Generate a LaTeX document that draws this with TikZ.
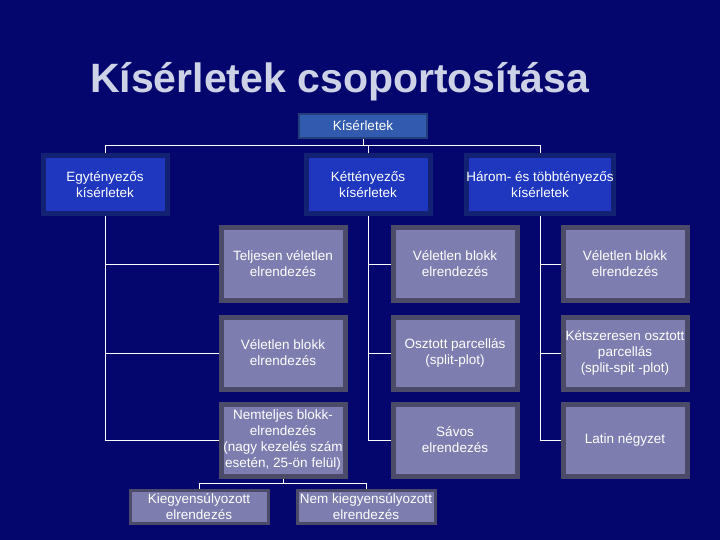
\documentclass[tikz,border=0pt]{standalone}
\usepackage{fontspec}
\setmainfont{Liberation Sans}
\definecolor{bgnavy}{RGB}{4,6,110}
\definecolor{topblue}{RGB}{50,90,175}
\definecolor{midblue}{RGB}{30,55,190}
\definecolor{grayblue}{RGB}{125,125,175}
\definecolor{titlegray}{RGB}{205,210,230}
\begin{document}
\begin{tikzpicture}[x=1pt,y=-1pt,
    every node/.style={align=center,text=white,
    font=\fontsize{13.5}{16}\selectfont,inner sep=0pt},
    topbox/.style={fill=topblue,draw=topblue!70!black,line width=2pt,
    minimum width=128pt,minimum height=24pt},
    headbox/.style={fill=midblue,draw=midblue!60!black,line width=5pt,
    minimum width=124pt,minimum height=58pt},
    leafbox/.style={fill=grayblue,draw=grayblue!60!black,line width=5pt,
    minimum width=124pt,minimum height=72pt},
    lowbox/.style={fill=grayblue,draw=grayblue!60!black,line width=3pt,
    minimum width=138pt,minimum height=33pt},
    link/.style={draw=white,line width=0.8pt}]
    \fill[bgnavy] (0,0) rectangle (720,540);
    \useasboundingbox (0,0) rectangle (720,540);
    \node[font=\fontsize{41}{46}\selectfont\bfseries,text=titlegray,
    anchor=west] (title) at (90,82) {Kísérletek csoportosítása};
    % upper row
    \node[topbox] (root) at (363,126) {Kísérletek};
    \node[headbox] (egy) at (105,185) {Egytényezős\\kísérletek};
    \node[headbox] (ket) at (368,185) {Kéttényezős\\kísérletek};
    \node[headbox] (harom) at (540,185) {Három- és többtényezős\\kísérletek};
    % leaves
    \node[leafbox] (tv) at (283,264) {Teljesen véletlen\\elrendezés};
    \node[leafbox] (vb1) at (283,353) {Véletlen blokk\\elrendezés};
    \node[leafbox] (nb) at (283,440) {Nemteljes blokk-\\elrendezés\\(nagy kezelés szám\\esetén, 25-ön felül)};
    \node[leafbox] (vb2) at (455,264) {Véletlen blokk\\elrendezés};
    \node[leafbox] (op) at (455,353) {Osztott parcellás\\(split-plot)};
    \node[leafbox] (sav) at (455,440) {Sávos\\elrendezés};
    \node[leafbox] (vb3) at (625,264) {Véletlen blokk\\elrendezés};
    \node[leafbox] (ko) at (625,353) {Kétszeresen osztott\\parcellás\\(split-spit -plot)};
    \node[leafbox] (ln) at (625,440) {Latin négyzet};
    \node[lowbox] (kiegy) at (199,507) {Kiegyensúlyozott\\elrendezés};
    \node[lowbox] (nemk) at (366,507) {Nem kiegyensúlyozott\\elrendezés};
    % connectors
    \coordinate (bus) at (0,145);
    \draw[link] (root.south) -- (root.south |- bus);
    \draw[link] (egy.north) -- (egy.north |- bus) -| (harom.north);
    \draw[link] (ket.north) -- (ket.north |- bus);
    \foreach \a/\b in {egy/tv,egy/vb1,egy/nb,ket/vb2,ket/op,ket/sav,
        harom/vb3,harom/ko,harom/ln}
      \draw[link] (\a.south) |- (\b.west);
    \draw[link] (nb.south) -- ++(0,5) coordinate (nbus);
    \draw[link] (kiegy.north) |- (nbus) -| (nemk.north);
\end{tikzpicture}
\end{document}
